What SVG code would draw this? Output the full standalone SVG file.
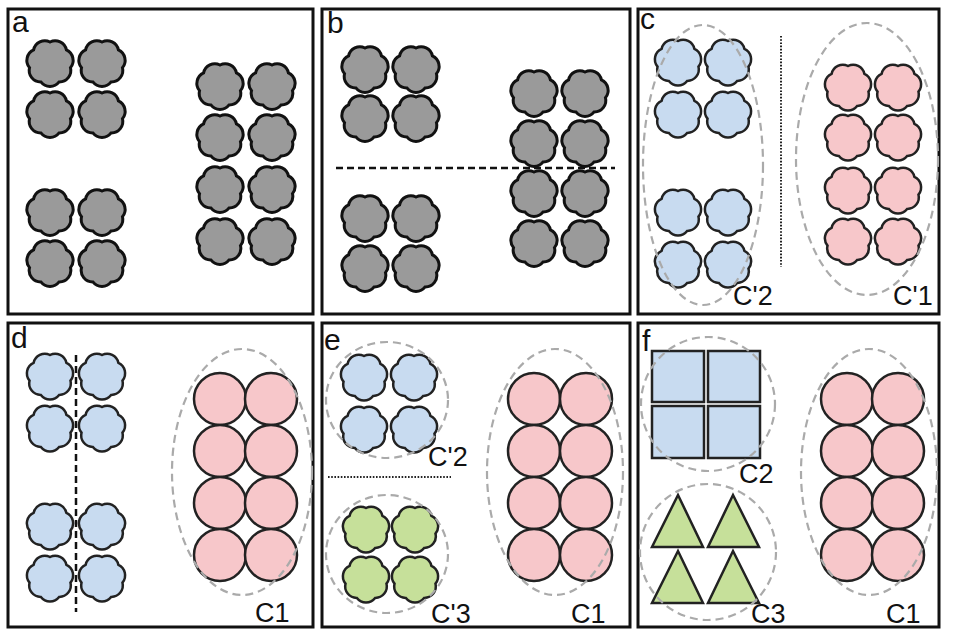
<svg xmlns="http://www.w3.org/2000/svg" xmlns:xlink="http://www.w3.org/1999/xlink" width="953" height="637" viewBox="0 0 953 637">
<style>
.frame{fill:#fff;stroke:#111;stroke-width:3}
.lbl{font-family:"Liberation Sans",Arial,sans-serif;font-size:27px;fill:#111}
.plbl{font-family:"Liberation Sans",Arial,sans-serif;font-size:30px;fill:#111}
.gray{fill:#9a9a9a;stroke:#111;stroke-width:3}
.blue{fill:#c8dbf0;stroke:#222;stroke-width:2.5}
.pink{fill:#f7c7ca;stroke:#222;stroke-width:2.5}
.green{fill:#c6e09a;stroke:#222;stroke-width:2.5}
.ell{fill:none;stroke:#aaa;stroke-width:2.2;stroke-dasharray:8 5}
.dash{stroke:#111;stroke-width:2.5;stroke-dasharray:7 4;fill:none}
.dot{stroke:#222;stroke-width:2;stroke-dasharray:1.6 1.6;fill:none}
</style>
<defs>
<path id="cl" d="M0,-21 A11.5,11.5 0 0 1 16.42,-13.09 A11.5,11.5 0 0 1 20.48,4.67 A11.5,11.5 0 0 1 9.11,18.92 A11.5,11.5 0 0 1 -9.11,18.92 A11.5,11.5 0 0 1 -20.48,4.67 A11.5,11.5 0 0 1 -16.42,-13.09 A11.5,11.5 0 0 1 0,-21 Z"/>
</defs>
<rect width="953" height="637" fill="#fff"/>

<g id="panel-a">
<rect class="frame" x="8" y="9" width="305" height="305"/>
<text class="plbl" x="12" y="32">a</text>
<g id="a-left-top" class="gray">
<use xlink:href="#cl" x="50" y="63"/><use xlink:href="#cl" x="102" y="63"/>
<use xlink:href="#cl" x="50" y="114"/><use xlink:href="#cl" x="102" y="114"/>
</g>
<g id="a-left-bottom" class="gray">
<use xlink:href="#cl" x="50" y="212"/><use xlink:href="#cl" x="102" y="212"/>
<use xlink:href="#cl" x="50" y="263"/><use xlink:href="#cl" x="102" y="263"/>
</g>
<g id="a-right" class="gray">
<use xlink:href="#cl" x="220" y="86"/><use xlink:href="#cl" x="272" y="86"/>
<use xlink:href="#cl" x="220" y="137"/><use xlink:href="#cl" x="272" y="137"/>
<use xlink:href="#cl" x="220" y="189"/><use xlink:href="#cl" x="272" y="189"/>
<use xlink:href="#cl" x="220" y="241"/><use xlink:href="#cl" x="272" y="241"/>
</g>
</g>

<g id="panel-b">
<rect class="frame" x="322" y="9" width="308" height="305"/>
<text class="plbl" x="327" y="33">b</text>
<g id="b-left-top" class="gray">
<use xlink:href="#cl" x="365" y="69"/><use xlink:href="#cl" x="416" y="69"/>
<use xlink:href="#cl" x="365" y="118"/><use xlink:href="#cl" x="416" y="118"/>
</g>
<g id="b-left-bottom" class="gray">
<use xlink:href="#cl" x="365" y="218"/><use xlink:href="#cl" x="416" y="218"/>
<use xlink:href="#cl" x="365" y="268"/><use xlink:href="#cl" x="416" y="268"/>
</g>
<g id="b-right" class="gray">
<use xlink:href="#cl" x="534" y="93"/><use xlink:href="#cl" x="585" y="93"/>
<use xlink:href="#cl" x="534" y="143"/><use xlink:href="#cl" x="585" y="143"/>
<use xlink:href="#cl" x="534" y="193"/><use xlink:href="#cl" x="585" y="193"/>
<use xlink:href="#cl" x="534" y="243"/><use xlink:href="#cl" x="585" y="243"/>
</g>
</g>

<g id="panel-c">
<rect class="frame" x="638" y="9" width="301" height="305"/>
<text class="plbl" x="640" y="29">c</text>
<g id="c-blue" class="blue">
<use xlink:href="#cl" x="678" y="62"/><use xlink:href="#cl" x="728" y="62"/>
<use xlink:href="#cl" x="678" y="114"/><use xlink:href="#cl" x="728" y="114"/>
<use xlink:href="#cl" x="678" y="212"/><use xlink:href="#cl" x="728" y="212"/>
<use xlink:href="#cl" x="678" y="264"/><use xlink:href="#cl" x="728" y="264"/>
</g>
<g id="c-pink" class="pink">
<use xlink:href="#cl" x="848" y="87"/><use xlink:href="#cl" x="898" y="87"/>
<use xlink:href="#cl" x="848" y="137"/><use xlink:href="#cl" x="898" y="137"/>
<use xlink:href="#cl" x="848" y="190"/><use xlink:href="#cl" x="898" y="190"/>
<use xlink:href="#cl" x="848" y="241"/><use xlink:href="#cl" x="898" y="241"/>
</g>
<g id="c-clusters">
<ellipse class="ell" cx="703" cy="165" rx="60" ry="140"/>
<ellipse class="ell" cx="867" cy="159" rx="71" ry="136"/>
</g>
<text class="lbl" x="733" y="305">C'2</text>
<text class="lbl" x="893" y="305">C'1</text>
</g>

<g id="panel-d">
<rect class="frame" x="8" y="323" width="305" height="304"/>
<text class="plbl" x="11" y="348">d</text>
<g id="d-blue" class="blue">
<use xlink:href="#cl" x="50" y="376"/><use xlink:href="#cl" x="102" y="376"/>
<use xlink:href="#cl" x="50" y="428"/><use xlink:href="#cl" x="102" y="428"/>
<use xlink:href="#cl" x="50" y="526"/><use xlink:href="#cl" x="102" y="526"/>
<use xlink:href="#cl" x="50" y="578"/><use xlink:href="#cl" x="102" y="578"/>
</g>
<g id="d-pink" class="pink">
<circle cx="220" cy="399" r="26"/><circle cx="271" cy="399" r="26"/>
<circle cx="220" cy="451" r="26"/><circle cx="271" cy="451" r="26"/>
<circle cx="220" cy="503" r="26"/><circle cx="271" cy="503" r="26"/>
<circle cx="220" cy="555" r="26"/><circle cx="271" cy="555" r="26"/>
</g>
<ellipse class="ell" cx="242" cy="472" rx="70" ry="123"/>
<text class="lbl" x="255" y="622">C1</text>
</g>

<g id="panel-e">
<rect class="frame" x="322" y="323" width="308" height="304"/>
<text class="plbl" x="324" y="350">e</text>
<g id="e-blue" class="blue">
<use xlink:href="#cl" x="364" y="377"/><use xlink:href="#cl" x="414" y="377"/>
<use xlink:href="#cl" x="364" y="429"/><use xlink:href="#cl" x="414" y="429"/>
</g>
<g id="e-green" class="green">
<use xlink:href="#cl" x="366" y="529"/><use xlink:href="#cl" x="415" y="529"/>
<use xlink:href="#cl" x="366" y="579"/><use xlink:href="#cl" x="415" y="579"/>
</g>
<g id="e-pink" class="pink">
<circle cx="534" cy="399" r="26"/><circle cx="586" cy="399" r="26"/>
<circle cx="534" cy="451" r="26"/><circle cx="586" cy="451" r="26"/>
<circle cx="534" cy="503" r="26"/><circle cx="586" cy="503" r="26"/>
<circle cx="534" cy="555" r="26"/><circle cx="586" cy="555" r="26"/>
</g>
<g id="e-clusters">
<ellipse class="ell" cx="387" cy="400" rx="61" ry="58"/>
<ellipse class="ell" cx="387" cy="554" rx="61" ry="59"/>
<ellipse class="ell" cx="555" cy="472" rx="68" ry="123"/>
</g>
<text class="lbl" x="428" y="466">C'2</text>
<text class="lbl" x="431" y="623">C'3</text>
<text class="lbl" x="571" y="623">C1</text>
</g>

<g id="panel-f">
<rect class="frame" x="638" y="323" width="301" height="304"/>
<text class="plbl" x="642" y="351">f</text>
<g id="f-squares" class="blue">
<rect x="652" y="351" width="52" height="51"/><rect x="708" y="351" width="52" height="51"/>
<rect x="652" y="406" width="52" height="52"/><rect x="708" y="406" width="52" height="52"/>
</g>
<g id="f-triangles" class="green">
<polygon points="652,547 703,547 678,495"/><polygon points="708,547 759,547 733,495"/>
<polygon points="652,603 703,603 678,551"/><polygon points="708,603 759,603 733,551"/>
</g>
<g id="f-pink" class="pink">
<circle cx="847" cy="399" r="26"/><circle cx="898" cy="399" r="26"/>
<circle cx="847" cy="451" r="26"/><circle cx="898" cy="451" r="26"/>
<circle cx="847" cy="503" r="26"/><circle cx="898" cy="503" r="26"/>
<circle cx="847" cy="555" r="26"/><circle cx="898" cy="555" r="26"/>
</g>
<g id="f-clusters">
<ellipse class="ell" cx="708" cy="404" rx="67" ry="67"/>
<ellipse class="ell" cx="708" cy="552" rx="68" ry="68"/>
<ellipse class="ell" cx="869" cy="472" rx="68" ry="123"/>
</g>
<text class="lbl" x="739" y="483">C2</text>
<text class="lbl" x="751" y="623">C3</text>
<text class="lbl" x="886" y="623">C1</text>
</g>

<g id="connectors">
<line class="dash" x1="336" y1="168" x2="615" y2="168"/>
<line class="dot" x1="781" y1="36" x2="781" y2="267"/>
<line class="dash" x1="76" y1="355" x2="76" y2="612"/>
<line class="dot" x1="328" y1="477" x2="451" y2="477"/>
</g>
</svg>
